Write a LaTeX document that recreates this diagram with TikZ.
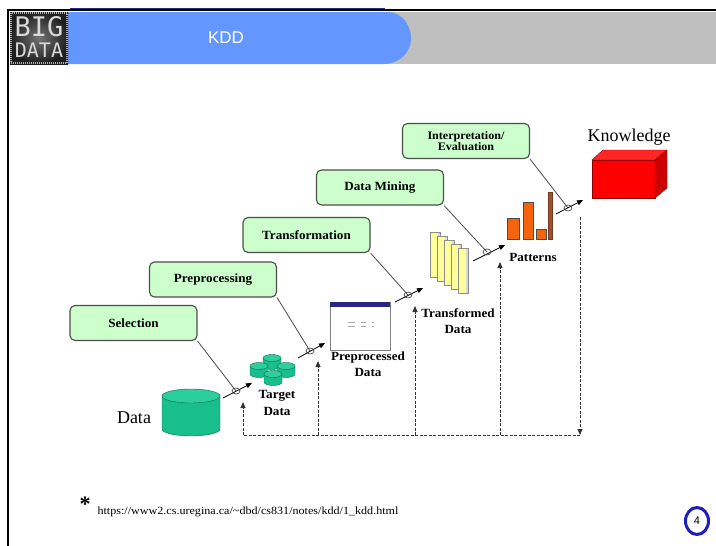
\documentclass[tikz,border=0pt]{standalone}
\usepackage{fontspec}
\setmainfont{Liberation Serif}
\newfontfamily\stepfont[FakeStretch=1.05]{Liberation Serif}
\newfontfamily\notefont[FakeStretch=1.1]{Liberation Serif}
\newfontfamily\headfont{Liberation Sans}
\newfontfamily\logofont{DejaVu Sans Mono}
\usetikzlibrary{arrows.meta}

\definecolor{boxgreen}{RGB}{204,255,204}
\definecolor{cylgreen}{RGB}{24,190,140}
\definecolor{cyltop}{RGB}{44,206,158}
\definecolor{headblue}{RGB}{100,150,255}
\definecolor{headgray}{RGB}{191,191,191}
\definecolor{pageyellow}{RGB}{255,255,153}
\definecolor{barorange}{RGB}{245,100,10}
\definecolor{barbrown}{RGB}{160,82,45}
\definecolor{ringblue}{RGB}{30,30,190}
\definecolor{winnavy}{RGB}{40,40,130}

% drum: top centre, x radius, y radius, height
\newcommand\drum[4]{%
  \begin{scope}[shift={#1}]
    \filldraw[draw=cylgreen!55!black,fill=cylgreen]
      (-#2,0) -- (-#2,#4) arc[start angle=180,end angle=0,x radius=#2,y radius=#3]
      -- (#2,0) -- cycle;
    \filldraw[draw=cylgreen!55!black,fill=cyltop] (0,0) ellipse[x radius=#2,y radius=#3];
  \end{scope}}

\begin{document}
\begin{tikzpicture}[x=1pt,y=-1pt,
    stepbox/.style={draw=black!70,line width=1.1pt,fill=boxgreen,rounded corners=5pt,
      minimum width=127pt,minimum height=35pt,
      font=\stepfont\bfseries\fontsize{12.5}{12.5}\selectfont},
    lbl/.style={align=center,font=\stepfont\bfseries\fontsize{12.5}{16.5}\selectfont},
    feed/.style={draw=black!80,dash pattern=on 3pt off 1.5pt,line width=0.9pt},
    tip/.style={-{Triangle[length=6pt,width=5pt]}},
    hand/.style={draw=black!70,line width=0.7pt}]
  \useasboundingbox (0,0) rectangle (716,546);
  \fill[white] (0,0) rectangle (716,546);

  % header
  \fill[headgray] (380,12) rectangle (716,64);
  \fill[headblue] (68,12) -- (388,12) .. controls (402,12) and (411,26) .. (411,38)
    .. controls (411,52) and (400,64) .. (383,64) -- (68,64) -- cycle;
  \draw[winnavy,line width=1pt] (70,8.5) -- (385,8.5);
  \draw[black,line width=2.5pt] (7,10) -- (716,10);
  \draw[black,line width=2pt] (8,10) -- (8,546);
  \node[text=white,font=\headfont\fontsize{17}{18}\selectfont] (title) at (226,38) {KDD};

  % logo
  \shade[inner color=black!55,outer color=black!88] (10,12) rectangle (68,64);
  \draw[black!30,line width=2pt,dash pattern=on 1pt off 1pt] (11,13) rectangle (67,63);
  \node[text=black!15,font=\logofont\fontsize{27}{27}\selectfont] (big) at (39,27) {BIG};
  \node[text=black!15,font=\logofont\fontsize{20}{20}\selectfont] (data) at (39,50) {DATA};

  % process steps
  \node[stepbox] (sel) at (133.5,323) {Selection};
  \node[stepbox] (pre) at (213,279.5) {Preprocessing};
  \node[stepbox] (tra) at (306.5,235) {Transformation};
  \node[stepbox] (dm) at (380,187.5) {Data Mining};
  \node[stepbox,align=center,font=\stepfont\bfseries\fontsize{11.5}{11.5}\selectfont]
    (ie) at (466,141) {Interpretation/\\Evaluation};

  % Data
  \drum{(191,396)}{29}{7}{33}
  \node[font=\fontsize{18}{20}\selectfont] (raw) at (134,418) {Data};

  % Target Data
  \drum{(272,358)}{9}{3.5}{8}
  \drum{(259,366)}{9}{3.5}{8}
  \drum{(286,366)}{9}{3.5}{8}
  \drum{(273,374)}{9}{3.5}{8}
  \node[lbl] (target) at (277,403) {Target\\Data};

  % Preprocessed Data
  \draw[fill=white,draw=black!50] (330,302) rectangle (390,350);
  \fill[winnavy] (330,302) rectangle (390,306.5);
  \foreach \y in {322,326} {
    \draw[black!35,line width=1pt] (348,\y) -- (355,\y) (361,\y) -- (366,\y) (372,\y) -- (374,\y);
  }
  \node[lbl] (prep) at (368,364) {Preprocessed\\Data};

  % Transformed Data
  \foreach \i in {0,...,4} {
    \filldraw[draw=black!45,fill=pageyellow] (430+7*\i,232+4*\i) rectangle (440+7*\i,277+4*\i);
    \fill[black!15] (438+7*\i,232.5+4*\i) rectangle (439.5+7*\i,276.5+4*\i);
  }
  \node[lbl] (trans) at (458,321) {Transformed\\Data};

  % Patterns
  \filldraw[draw=black!70,fill=barorange] (507,218) rectangle (519,239);
  \filldraw[draw=black!70,fill=barorange] (523,202) rectangle (533,239);
  \filldraw[draw=black!70,fill=barorange] (536,229) rectangle (546,239);
  \filldraw[draw=barbrown!70!black,fill=barbrown] (548,192) rectangle (552,239);
  \node[lbl] (pat) at (533,257) {Patterns};

  % Knowledge
  \filldraw[draw=red!55!black,fill=red] (592,160) rectangle (655,198);
  \filldraw[draw=red!55!black,fill=red!85!white] (592,160) -- (603,150) -- (667,150) -- (655,160) -- cycle;
  \filldraw[draw=red!55!black,fill=red!80!black] (655,160) -- (667,150) -- (667,188) -- (655,198) -- cycle;
  \node[font=\fontsize{18}{20}\selectfont] (know) at (629,137) {Knowledge};

  % step arrows
  \coordinate (r1) at (236,391); \coordinate (t1) at (223,398); \coordinate (h1) at (252,383);
  \coordinate (r2) at (310,351); \coordinate (t2) at (298,358); \coordinate (h2) at (325,343);
  \coordinate (r3) at (408,295); \coordinate (t3) at (395,302); \coordinate (h3) at (423,288);
  \coordinate (r4) at (487,252); \coordinate (t4) at (473,261); \coordinate (h4) at (505,245);
  \coordinate (r5) at (568,208); \coordinate (t5) at (556,214); \coordinate (h5) at (583,200);
  \draw[black!70,line width=0.8pt] (sel.south east) -- (r1);
  \draw[black!70,line width=0.8pt] (pre.south east) -- (r2);
  \draw[black!70,line width=0.8pt] (tra.south east) -- (r3);
  \draw[black!70,line width=0.8pt] (dm.south east) -- (r4);
  \draw[black!70,line width=0.8pt] (ie.south east) -- (r5);
  \foreach \n in {1,...,5} {
    \draw[tip,line width=0.8pt] (t\n) -- (h\n);
    \draw[hand] (r\n) ellipse[x radius=4,y radius=3];
  }

  % feedback loop
  \coordinate (fa) at (243,435); \coordinate (fb) at (318,435);
  \coordinate (fc) at (415,435); \coordinate (fd) at (500,435);
  \coordinate (fe) at (580,435); \coordinate (ftop) at (580,217);
  \draw[feed,tip] (ftop) -- (fe);
  \draw[feed] (fe) -- (fa);
  \draw[feed,tip] (fa) -- (243,402);
  \draw[feed,tip] (fb) -- (318,361);
  \draw[feed,tip] (fc) -- (415,306);
  \draw[feed,tip] (fd) -- (500,262);

  % footer
  \node[font=\bfseries\fontsize{22}{22}\selectfont] (star) at (85,504) {*};
  \node[anchor=west,font=\notefont\fontsize{11}{12}\selectfont] (url) at (94,512)
    {https://www2.cs.uregina.ca/\string~dbd/cs831/notes/kdd/1\_kdd.html};
  \draw[ringblue,line width=3pt] (697,521) ellipse[x radius=11.5,y radius=13.5];
  \node[font=\headfont\fontsize{11}{12}\selectfont] (page) at (697,521) {4};
\end{tikzpicture}
\end{document}
